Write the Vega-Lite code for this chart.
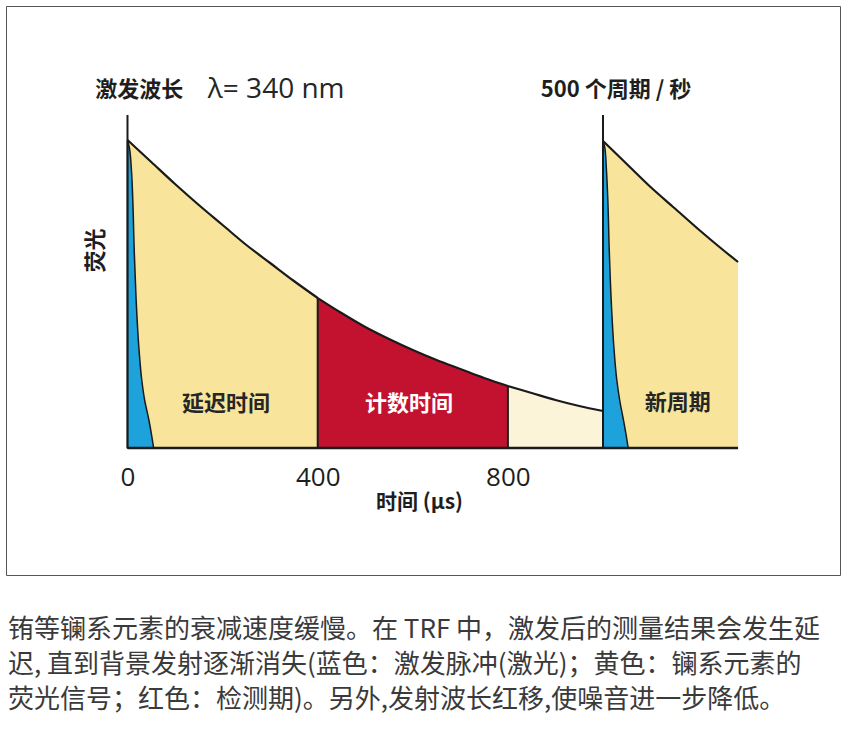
{
  "$schema": "https://vega.github.io/schema/vega-lite/v6.json",
  "width": 834,
  "height": 569,
  "autosize": {"type": "none"},
  "padding": {"left": 6, "top": 6, "right": 6, "bottom": 160},
  "background": "white",
  "config": {
    "view": {"stroke": "#555555", "strokeWidth": 1},
    "font": "Noto Sans CJK SC",
    "axis": {"grid": false}
  },
  "title": {
    "text": [
      "铕等镧系元素的衰减速度缓慢。在 TRF 中，激发后的测量结果会发生延",
      "迟, 直到背景发射逐渐消失(蓝色：激发脉冲(激光)；黄色：镧系元素的",
      "荧光信号；红色：检测期)。另外,发射波长红移,使噪音进一步降低。"
    ],
    "orient": "bottom",
    "anchor": "start",
    "frame": "group",
    "offset": 42,
    "dx": 2,
    "baseline": "top",
    "font": "Noto Sans CJK SC",
    "fontSize": 26,
    "fontWeight": "normal",
    "color": "#3a3a3a",
    "lineHeight": 35
  },
  "datasets": {
    "decay": [
      {"seg": "延迟时间", "t": 0, "f": 308},
      {"seg": "延迟时间", "t": 50, "f": 286},
      {"seg": "延迟时间", "t": 100, "f": 264},
      {"seg": "延迟时间", "t": 150, "f": 243},
      {"seg": "延迟时间", "t": 200, "f": 223},
      {"seg": "延迟时间", "t": 250, "f": 203},
      {"seg": "延迟时间", "t": 300, "f": 185},
      {"seg": "延迟时间", "t": 350, "f": 167},
      {"seg": "延迟时间", "t": 400, "f": 150},
      {"seg": "计数时间", "t": 400, "f": 150},
      {"seg": "计数时间", "t": 450, "f": 135},
      {"seg": "计数时间", "t": 500, "f": 121},
      {"seg": "计数时间", "t": 550, "f": 109},
      {"seg": "计数时间", "t": 600, "f": 98},
      {"seg": "计数时间", "t": 650, "f": 88},
      {"seg": "计数时间", "t": 700, "f": 79},
      {"seg": "计数时间", "t": 750, "f": 70},
      {"seg": "计数时间", "t": 800, "f": 62},
      {"seg": "背景", "t": 800, "f": 62},
      {"seg": "背景", "t": 850, "f": 55},
      {"seg": "背景", "t": 900, "f": 48},
      {"seg": "背景", "t": 950, "f": 42},
      {"seg": "背景", "t": 1000, "f": 37},
      {"seg": "新周期", "t": 1000, "f": 307},
      {"seg": "新周期", "t": 1050, "f": 284},
      {"seg": "新周期", "t": 1100, "f": 261},
      {"seg": "新周期", "t": 1150, "f": 240},
      {"seg": "新周期", "t": 1200, "f": 219},
      {"seg": "新周期", "t": 1250, "f": 199},
      {"seg": "新周期", "t": 1284, "f": 186}
    ],
    "pulse": [
      {"p": "1", "h": 0, "tl": 0, "tr": 55},
      {"p": "1", "h": 12, "tl": 0, "tr": 51},
      {"p": "1", "h": 28, "tl": 0, "tr": 45},
      {"p": "1", "h": 48, "tl": 0, "tr": 36},
      {"p": "1", "h": 68, "tl": 0, "tr": 30},
      {"p": "1", "h": 100, "tl": 0, "tr": 24},
      {"p": "1", "h": 150, "tl": 0, "tr": 18},
      {"p": "1", "h": 200, "tl": 0, "tr": 14},
      {"p": "1", "h": 250, "tl": 0, "tr": 11},
      {"p": "1", "h": 280, "tl": 0, "tr": 8},
      {"p": "1", "h": 300, "tl": 0, "tr": 4},
      {"p": "1", "h": 308, "tl": 0, "tr": 0},
      {"p": "2", "h": 0, "tl": 1000, "tr": 1053},
      {"p": "2", "h": 12, "tl": 1000, "tr": 1049},
      {"p": "2", "h": 28, "tl": 1000, "tr": 1043},
      {"p": "2", "h": 48, "tl": 1000, "tr": 1035},
      {"p": "2", "h": 68, "tl": 1000, "tr": 1029},
      {"p": "2", "h": 100, "tl": 1000, "tr": 1023},
      {"p": "2", "h": 150, "tl": 1000, "tr": 1017},
      {"p": "2", "h": 200, "tl": 1000, "tr": 1013},
      {"p": "2", "h": 250, "tl": 1000, "tr": 1010},
      {"p": "2", "h": 280, "tl": 1000, "tr": 1007},
      {"p": "2", "h": 300, "tl": 1000, "tr": 1004},
      {"p": "2", "h": 307, "tl": 1000, "tr": 1000}
    ],
    "one": [{}]
  },
  "layer": [
    {
      "data": {"name": "decay"},
      "mark": {"type": "area", "interpolate": "monotone"},
      "encoding": {
        "x": {
          "field": "t", "type": "quantitative",
          "scale": {"domain": [-255.5, 1498.4], "nice": false, "zero": false},
          "axis": {
            "values": [0, 400, 800], "domain": false, "ticks": false, "grid": false,
            "offset": -127, "labelFont": "Open Sans", "labelFontSize": 26,
            "labelColor": "#1e1e1e", "labelPadding": 16, "labelFlush": false,
            "labelOverlap": false,
            "title": "时间 (µs)", "titleFont": "Noto Sans CJK SC", "titleFontSize": 21,
            "titleFontWeight": "bold", "titleColor": "#1e1e1e",
            "titleX": 413, "titleY": 54, "titleBaseline": "middle", "titleAlign": "center"
          }
        },
        "y": {
          "field": "f", "type": "quantitative", "stack": null,
          "scale": {"domain": [-127, 442], "nice": false, "zero": false},
          "axis": {
            "domain": false, "ticks": false, "labels": false, "grid": false,
            "title": "荧光", "titleFont": "Noto Sans CJK SC", "titleFontSize": 22,
            "titleFontWeight": "bold", "titleColor": "#1e1e1e",
            "titleX": 89, "titleY": 244, "titleAngle": -90,
            "titleAlign": "center", "titleBaseline": "middle"
          }
        },
        "color": {
          "field": "seg", "type": "nominal", "legend": null,
          "scale": {
            "domain": ["延迟时间", "计数时间", "背景", "新周期"],
            "range": ["#F8E59B", "#C3122F", "#FCF4D8", "#F8E59B"]
          }
        }
      }
    },
    {
      "data": {"name": "pulse"},
      "mark": {"type": "area", "orient": "horizontal", "interpolate": "monotone",
               "color": "#1DA2DB", "stroke": "#1a1a1a", "strokeWidth": 1.5},
      "encoding": {
        "y": {"field": "h", "type": "quantitative"},
        "x": {"field": "tr", "type": "quantitative", "stack": null},
        "x2": {"field": "tl"},
        "detail": {"field": "p"}
      }
    },
    {
      "data": {"name": "decay"},
      "mark": {"type": "line", "interpolate": "monotone", "color": "#1a1a1a", "strokeWidth": 2.2},
      "encoding": {
        "x": {"field": "t", "type": "quantitative"},
        "y": {"field": "f", "type": "quantitative"},
        "detail": {"field": "seg"}
      }
    },
    {
      "data": {"name": "one"},
      "mark": {"type": "rule", "color": "#1a1a1a", "strokeWidth": 2},
      "encoding": {
        "x": {"datum": 0, "type": "quantitative"},
        "y": {"datum": 0, "type": "quantitative"},
        "y2": {"datum": 333}
      }
    },
    {
      "data": {"name": "one"},
      "mark": {"type": "rule", "color": "#1a1a1a", "strokeWidth": 2},
      "encoding": {
        "x": {"datum": 1000, "type": "quantitative"},
        "y": {"datum": 0, "type": "quantitative"},
        "y2": {"datum": 333}
      }
    },
    {
      "data": {"name": "one"},
      "mark": {"type": "rule", "color": "#1a1a1a", "strokeWidth": 2},
      "encoding": {
        "x": {"datum": 400, "type": "quantitative"},
        "y": {"datum": 0, "type": "quantitative"},
        "y2": {"datum": 150}
      }
    },
    {
      "data": {"name": "one"},
      "mark": {"type": "rule", "color": "#1a1a1a", "strokeWidth": 2},
      "encoding": {
        "x": {"datum": 800, "type": "quantitative"},
        "y": {"datum": 0, "type": "quantitative"},
        "y2": {"datum": 62}
      }
    },
    {
      "data": {"name": "one"},
      "mark": {"type": "rule", "color": "#1a1a1a", "strokeWidth": 2.5},
      "encoding": {
        "x": {"datum": 0, "type": "quantitative"},
        "x2": {"datum": 1284},
        "y": {"datum": 0, "type": "quantitative"}
      }
    },
    {
      "data": {"name": "one"},
      "mark": {"type": "text", "text": "激发波长", "align": "left", "baseline": "middle",
               "font": "Noto Sans CJK SC", "fontSize": 22, "fontWeight": "bold", "color": "#1e1e1e"},
      "encoding": {
        "x": {"datum": -68, "type": "quantitative"},
        "y": {"datum": 358, "type": "quantitative"}
      }
    },
    {
      "data": {"name": "one"},
      "mark": {"type": "text", "text": "λ= 340 nm", "align": "left", "baseline": "middle",
               "font": "Open Sans", "fontSize": 28, "fontWeight": "normal", "color": "#262626"},
      "encoding": {
        "x": {"datum": 169, "type": "quantitative"},
        "y": {"datum": 358, "type": "quantitative"}
      }
    },
    {
      "data": {"name": "one"},
      "mark": {"type": "text", "text": "500 个周期 / 秒", "align": "left", "baseline": "middle",
               "font": "Noto Sans CJK SC", "fontSize": 22, "fontWeight": "bold", "color": "#1e1e1e"},
      "encoding": {
        "x": {"datum": 869, "type": "quantitative"},
        "y": {"datum": 358, "type": "quantitative"}
      }
    },
    {
      "data": {"name": "one"},
      "mark": {"type": "text", "text": "延迟时间", "align": "center", "baseline": "middle",
               "font": "Noto Sans CJK SC", "fontSize": 22, "fontWeight": "bold", "color": "#262626"},
      "encoding": {
        "x": {"datum": 207, "type": "quantitative"},
        "y": {"datum": 44, "type": "quantitative"}
      }
    },
    {
      "data": {"name": "one"},
      "mark": {"type": "text", "text": "计数时间", "align": "center", "baseline": "middle",
               "font": "Noto Sans CJK SC", "fontSize": 22, "fontWeight": "bold", "color": "#ffffff"},
      "encoding": {
        "x": {"datum": 592, "type": "quantitative"},
        "y": {"datum": 44, "type": "quantitative"}
      }
    },
    {
      "data": {"name": "one"},
      "mark": {"type": "text", "text": "新周期", "align": "center", "baseline": "middle",
               "font": "Noto Sans CJK SC", "fontSize": 22, "fontWeight": "bold", "color": "#262626"},
      "encoding": {
        "x": {"datum": 1157, "type": "quantitative"},
        "y": {"datum": 45, "type": "quantitative"}
      }
    }
  ]
}
